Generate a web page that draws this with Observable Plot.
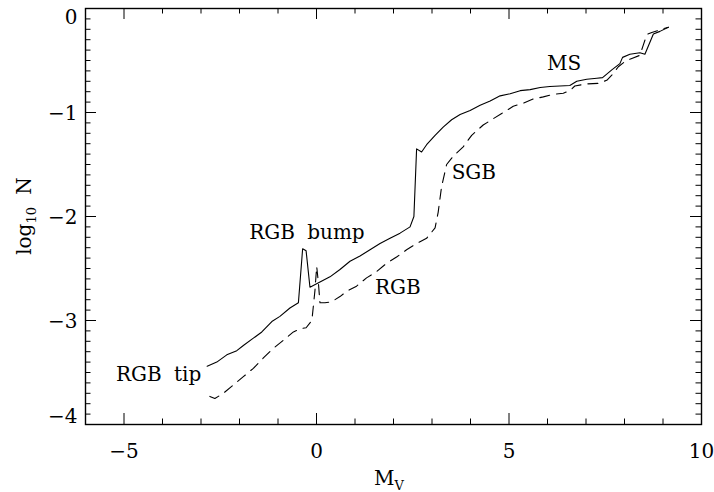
<!DOCTYPE html>
<html><head><meta charset="utf-8">
<script src="https://cdn.jsdelivr.net/npm/d3@7"></script>
<script src="https://cdn.jsdelivr.net/npm/@observablehq/plot@0.6"></script>
<style>body{margin:0;background:#fff}</style>
</head><body><div id="chart"></div><script>
// solid curve
const solidMv   = [-2.84,-2.59,-2.33,-2.07,-1.90,-1.64,-1.42,-1.16,-0.95,-0.69,-0.47,-0.36,-0.27,-0.17,0.09,0.35,0.61,0.87,1.13,1.39,1.65,1.91,2.17,2.43,2.53,2.60,2.73,2.86,3.08,3.29,3.51,3.73,3.99,4.25,4.51,4.77,5.03,5.29,5.55,5.81,6.06,6.32,6.58,6.76,7.02,7.28,7.43,7.67,7.88,7.95,8.14,8.40,8.53,8.75,8.92,9.14];
const solidLogN = [-3.44,-3.40,-3.33,-3.29,-3.24,-3.17,-3.11,-3.01,-2.96,-2.88,-2.83,-2.31,-2.33,-2.68,-2.63,-2.58,-2.51,-2.43,-2.38,-2.32,-2.26,-2.21,-2.16,-2.10,-2.00,-1.35,-1.38,-1.31,-1.22,-1.14,-1.07,-1.02,-0.98,-0.93,-0.89,-0.84,-0.82,-0.79,-0.78,-0.76,-0.75,-0.745,-0.74,-0.70,-0.68,-0.67,-0.665,-0.59,-0.53,-0.47,-0.44,-0.425,-0.44,-0.245,-0.22,-0.18];
// dashed curve
const dashMv   = [-2.77,-2.64,-2.42,-2.16,-1.90,-1.64,-1.38,-1.16,-0.86,-0.60,-0.43,-0.27,-0.12,-0.04,0.005,0.05,0.09,0.22,0.39,0.61,0.78,1.04,1.30,1.56,1.82,2.08,2.34,2.60,2.86,3.08,3.16,3.25,3.38,3.55,3.81,4.03,4.33,4.59,4.81,5.11,5.37,5.63,5.89,6.15,6.41,6.58,6.71,7.02,7.32,7.54,7.67,7.84,8.01,8.19,8.40,8.49,8.58,8.71,8.92,9.14];
const dashLogN = [-3.73,-3.75,-3.70,-3.62,-3.54,-3.46,-3.36,-3.28,-3.19,-3.11,-3.08,-3.07,-3.00,-2.71,-2.48,-2.64,-2.83,-2.83,-2.82,-2.77,-2.72,-2.67,-2.59,-2.53,-2.45,-2.39,-2.32,-2.26,-2.21,-2.11,-1.96,-1.71,-1.50,-1.42,-1.33,-1.22,-1.12,-1.06,-1.01,-0.94,-0.91,-0.87,-0.85,-0.825,-0.815,-0.79,-0.745,-0.725,-0.72,-0.69,-0.64,-0.56,-0.51,-0.48,-0.45,-0.35,-0.25,-0.23,-0.205,-0.18];
// annotations
const labelText = ["RGB tip","RGB bump","RGB","SGB","MS"];
const labelMv   = [-5.21,-1.75,1.52,3.51,5.99];
const labelLogN = [-3.52,-2.15,-2.68,-1.58,-0.53];
// ticks
const xMajor = [-5,0,5,10];
const xMinor = [-6,-4,-3,-2,-1,1,2,3,4,6,7,8,9];
const yMajor = [0,-1,-2,-3,-4];
const yMinor = d3.range(-40,1).filter(v => v % 10 !== 0).map(v => v/10);

const W = 714, H = 492, mL = 85, mR = 13, mT = 8, mB = 68;
const fw = W - mL - mR, fh = H - mT - mB;
const font = "DejaVu Serif";
const fmt = d => d3.format("")(d).replace("-", "\u2212");

const solid = solidMv.map((x,i) => ({x, y: solidLogN[i]}));
const dashed = dashMv.map((x,i) => ({x, y: dashLogN[i]}));
const labels = labelText.map((t,i) => ({t, x: labelMv[i], y: labelLogN[i]}));

const yLabelCommon = {y: d => d, frameAnchor: "left", textAnchor: "end", dx: -8, text: fmt, fontSize: 20, fill: "black"};

const plot = Plot.plot({
  width: W, height: H,
  marginLeft: mL, marginRight: mR, marginTop: mT, marginBottom: mB,
  x: {domain: [-6, 10], axis: null},
  y: {domain: [-4, 0], axis: null},
  style: {fontFamily: font, background: "white", wordSpacing: "6px"},
  marks: [
    Plot.ruleX(xMajor, {x: d => d, insetTop: fh - 11, stroke: "black", strokeWidth: 1}),
    Plot.ruleX(xMajor, {x: d => d, insetBottom: fh - 11, stroke: "black", strokeWidth: 1}),
    Plot.ruleX(xMinor, {x: d => d, insetTop: fh - 5.5, stroke: "black", strokeWidth: 1}),
    Plot.ruleX(xMinor, {x: d => d, insetBottom: fh - 5.5, stroke: "black", strokeWidth: 1}),
    Plot.ruleY(yMajor, {y: d => d, insetRight: fw - 11, stroke: "black", strokeWidth: 1}),
    Plot.ruleY(yMajor, {y: d => d, insetLeft: fw - 11, stroke: "black", strokeWidth: 1}),
    Plot.ruleY(yMinor, {y: d => d, insetRight: fw - 5.5, stroke: "black", strokeWidth: 1}),
    Plot.ruleY(yMinor, {y: d => d, insetLeft: fw - 5.5, stroke: "black", strokeWidth: 1}),
    Plot.frame({stroke: "black", strokeWidth: 1.4}),
    Plot.line(solid, {x: "x", y: "y", stroke: "black", strokeWidth: 1.1}),
    Plot.line(dashed, {x: "x", y: "y", stroke: "black", strokeWidth: 1.1, strokeDasharray: "10,7"}),
    Plot.text(xMajor, {x: d => d, frameAnchor: "bottom", dy: 33, text: fmt, fontSize: 20, fill: "black"}),
    Plot.text(yMajor.filter(d => d === 0), {...yLabelCommon, dy: 9}),
    Plot.text(yMajor.filter(d => d < 0 && d > -4), {...yLabelCommon, dy: 1}),
    Plot.text(yMajor.filter(d => d === -4), {...yLabelCommon, dy: -8}),
    Plot.text(labels, {x: "x", y: "y", text: "t", textAnchor: "start", fontSize: 20, fill: "black"})
  ]
});
document.getElementById("chart").appendChild(plot);

const svg = d3.select(plot);
const xt = svg.append("text").attr("x", mL + fw/2 - 4).attr("y", 485).attr("text-anchor", "middle")
  .attr("font-family", font).attr("font-size", 20).attr("fill", "black");
xt.append("tspan").text("M");
xt.append("tspan").attr("font-size", 13).attr("dy", 5).text("V");
const yt = svg.append("text").attr("transform", `translate(31,${mT + fh/2}) rotate(-90)`).attr("text-anchor", "middle")
  .attr("font-family", font).attr("font-size", 20).attr("fill", "black");
yt.append("tspan").text("log");
yt.append("tspan").attr("font-size", 13).attr("dy", 5).text("10");
yt.append("tspan").attr("dy", -5).text(" N");
</script></body></html>
